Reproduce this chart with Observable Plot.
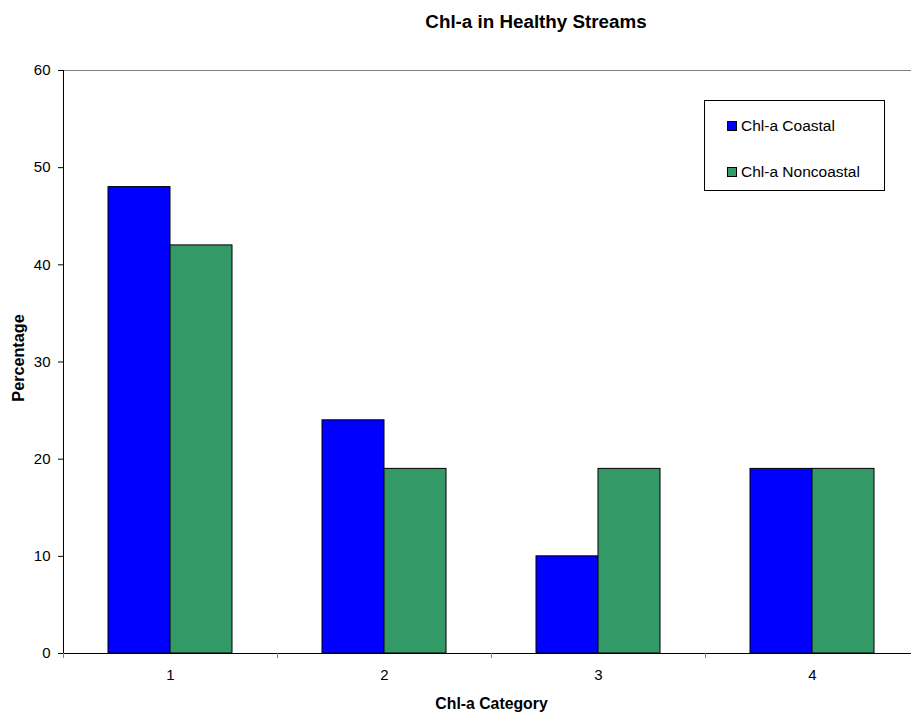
<!DOCTYPE html>
<html>
<head>
<meta charset="utf-8">
<script src="https://cdn.jsdelivr.net/npm/d3@7"></script>
<script src="https://cdn.jsdelivr.net/npm/@observablehq/plot@0.6"></script>
<style>
  body { margin: 0; background: white; font-family: "Liberation Sans", Arial, sans-serif; }
  #wrap { position: relative; width: 911px; height: 714px; overflow: hidden; }
  #wrap svg { max-width: none; }
  g[aria-label$="tick label"] { font-size: 15px; }
  #legend { position: absolute; left: 704px; top: 100px; width: 179px; height: 89px;
    border: 1px solid #000; background: white; font-size: 15.5px; line-height: 18px; color: #000; }
  .item { position: absolute; left: 22px; height: 18px; display: flex; align-items: center; }
  .sw { width: 8px; height: 8px; border: 1.5px solid #000; margin-right: 4px; }
</style>
</head>
<body>
<div id="wrap"></div>
<script>
const categories = [1, 2, 3, 4];
const seriesNames = ["Chl-a Coastal", "Chl-a Noncoastal"];
const coastal = [48, 24, 10, 19];
const noncoastal = [42, 19, 19, 19];
const yTicks = [0, 10, 20, 30, 40, 50, 60];
const colors = ["#0000FF", "#339966"];
const titleText = "Chl-a in Healthy Streams";
const xLabel = "Chl-a Category";
const yLabel = "Percentage";

const data = categories.flatMap((c, i) => [
  {cat: c, series: seriesNames[0], value: coastal[i], side: -1},
  {cat: c, series: seriesNames[1], value: noncoastal[i], side: 0}
]);
const BW = 62 / 214;
const boundaries = [categories[0] - 0.5, ...categories.map(c => c + 0.5)];

const chart = Plot.plot({
  width: 919,
  height: 714,
  marginLeft: 63,
  marginRight: 0,
  marginTop: 70,
  marginBottom: 61,
  style: {fontFamily: '"Liberation Sans", Arial, sans-serif', fontSize: "15px", color: "#000", background: "white"},
  x: {type: "linear", domain: [categories[0] - 0.5, categories[categories.length - 1] + 0.5]},
  y: {domain: [0, 60]},
  color: {domain: seriesNames, range: colors},
  marks: [
    Plot.ruleY([60], {stroke: "#808080", strokeWidth: 1}),
    Plot.rect(data, {
      x1: d => d.cat + d.side * BW,
      x2: d => d.cat + (d.side + 1) * BW,
      y1: 0,
      y2: "value",
      fill: "series",
      stroke: "#000",
      strokeWidth: 1
    }),
    Plot.ruleX([boundaries[0]], {y1: 0, y2: 60, stroke: "#000"}),
    Plot.ruleY([0], {stroke: "#000"}),
    Plot.axisY({ticks: yTicks, tickSize: 5, tickPadding: 8, label: null, fontSize: 15}),
    Plot.axisX({ticks: categories, tickSize: 0, tickPadding: 16, label: null, fontSize: 15, tickFormat: d => String(d)}),
    Plot.axisX({ticks: boundaries, tickSize: 5, stroke: "#808080", tickFormat: () => "", label: null}),
    Plot.text([titleText], {frameAnchor: "top", lineAnchor: "middle", dy: -49, dx: 44.5, fontWeight: "bold", fontSize: 18.8}),
    Plot.text([xLabel], {frameAnchor: "bottom", lineAnchor: "middle", dy: 50, fontWeight: "bold", fontSize: 15.8}),
    Plot.text([yLabel], {frameAnchor: "left", textAnchor: "middle", lineAnchor: "middle", dx: -45, dy: -4, rotate: -90, fontWeight: "bold", fontSize: 16.2})
  ]
});
const wrap = document.getElementById("wrap");
wrap.appendChild(chart);

const legend = document.createElement("div");
legend.id = "legend";
seriesNames.forEach((name, i) => {
  const item = document.createElement("div");
  item.className = "item";
  item.style.top = (i === 0 ? 16 : 62) + "px";
  const sw = document.createElement("div");
  sw.className = "sw";
  sw.style.background = colors[i];
  const t = document.createElement("span");
  t.textContent = name;
  item.appendChild(sw);
  item.appendChild(t);
  legend.appendChild(item);
});
wrap.appendChild(legend);
</script>
</body>
</html>
